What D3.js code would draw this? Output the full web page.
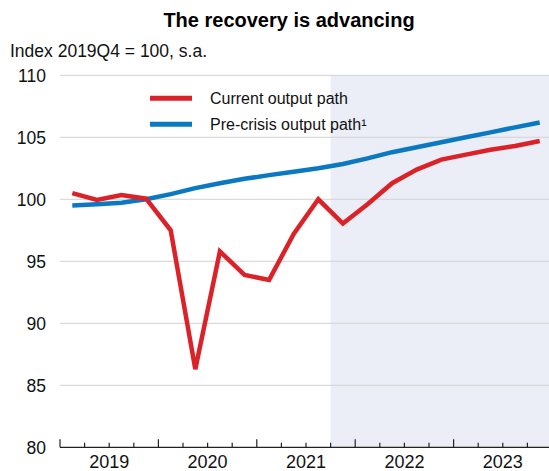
<!DOCTYPE html>
<html>
<head>
<meta charset="utf-8">
<script src="https://cdn.jsdelivr.net/npm/d3@7"></script>
<style>
  html, body { margin: 0; padding: 0; background: #fff; }
  svg { display: block; font-family: "Liberation Sans", Arial, sans-serif; }
</style>
</head>
<body>
<svg id="chart" width="549" height="471"></svg>
<script>
const quarters = ["2019Q1","2019Q2","2019Q3","2019Q4","2020Q1","2020Q2","2020Q3","2020Q4",
  "2021Q1","2021Q2","2021Q3","2021Q4","2022Q1","2022Q2","2022Q3","2022Q4",
  "2023Q1","2023Q2","2023Q3","2023Q4"];
const currentPath = [100.5, 99.95, 100.35, 100.05, 97.5, 86.3, 95.8, 93.9, 93.5, 97.2,
  100.0, 98.05, 99.6, 101.3, 102.4, 103.2, 103.6, 104.0, 104.3, 104.7];
const preCrisisPath = [99.5, 99.6, 99.72, 100.0, 100.42, 100.9, 101.3, 101.65, 101.95, 102.22,
  102.5, 102.85, 103.3, 103.8, 104.2, 104.6, 105.0, 105.4, 105.8, 106.2];
const years = ["2019","2020","2021","2022","2023"];
const yTicks = [80, 85, 90, 95, 100, 105, 110];
const projectionStart = "2021Q4";
const seriesNames = ["Current output path", "Pre-crisis output path\u00b9"];
const seriesColors = ["#dc2229", "#0b78c2"];

const svg = d3.select("#chart");
const W = 549, H = 471;
const m = {left: 60, right: 0, top: 75.3, bottom: 23.7};
const plotW = W - m.left - m.right;
const plotH = H - m.top - m.bottom;

// quarter band scale; 20 quarters over 5 years (~24.6px each)
const qWidth = 98.4 / 4;
const x = d3.scaleBand().domain(quarters).range([m.left, m.left + qWidth * quarters.length]).padding(0);
const y = d3.scaleLinear().domain([80, 110]).range([H - m.bottom, m.top]);
const xc = q => x(q) + x.bandwidth() / 2;

// shading
svg.append("rect")
  .attr("x", x(projectionStart)).attr("y", m.top)
  .attr("width", W - x(projectionStart)).attr("height", plotH)
  .attr("fill", "#ebeef6");

// gridlines
svg.append("g").selectAll("line").data(yTicks.filter(d => d > 80)).join("line")
  .attr("x1", m.left).attr("x2", W)
  .attr("y1", d => y(d)).attr("y2", d => y(d))
  .attr("stroke", "#d3d3d3").attr("stroke-width", 1);

// y labels
svg.append("g").selectAll("text").data(yTicks).join("text")
  .attr("x", 46).attr("y", d => y(d)).attr("dy", "0.36em")
  .attr("text-anchor", "end").attr("font-size", 17.5).attr("fill", "#111")
  .text(d => d);

// x axis
const xAxisY = y(80);
svg.append("line").attr("x1", m.left).attr("x2", W).attr("y1", xAxisY).attr("y2", xAxisY)
  .attr("stroke", "#222").attr("stroke-width", 1.2);
const tickPos = d3.range(quarters.length + 1).map(i => ({pos: m.left + i * qWidth, major: i % 4 === 0}));
svg.append("g").selectAll("line").data(tickPos.filter(t => t.pos <= W)).join("line")
  .attr("x1", d => d.pos).attr("x2", d => d.pos)
  .attr("y1", xAxisY).attr("y2", d => xAxisY - (d.major ? 8 : 4.5))
  .attr("stroke", "#222").attr("stroke-width", 1.2);
svg.append("g").selectAll("text").data(years).join("text")
  .attr("x", (d, i) => m.left + (i + 0.5) * 4 * qWidth)
  .attr("y", 468).attr("text-anchor", "middle").attr("font-size", 18).attr("fill", "#111")
  .text(d => d);

// lines
const line = d3.line().x((d, i) => xc(quarters[i])).y(d => y(d)).curve(d3.curveLinear);
[preCrisisPath, currentPath].forEach((s, idx) => {
  const color = idx === 0 ? seriesColors[1] : seriesColors[0];
  svg.append("path").datum(s).attr("d", line)
    .attr("fill", "none").attr("stroke", color).attr("stroke-width", 4.5)
    .attr("stroke-linejoin", "miter").attr("stroke-miterlimit", 4);
});

// legend
const legY = [98.3, 124.3];
seriesNames.forEach((n, i) => {
  svg.append("line").attr("x1", 150).attr("x2", 192).attr("y1", legY[i]).attr("y2", legY[i])
    .attr("stroke", seriesColors[i]).attr("stroke-width", 5);
  svg.append("text").attr("x", 210).attr("y", legY[i]).attr("dy", "0.36em")
    .attr("font-size", 16).attr("fill", "#111").text(n);
});

// title & subtitle
svg.append("text").attr("x", 289).attr("y", 27).attr("text-anchor", "middle")
  .attr("font-size", 20).attr("font-weight", "bold").attr("fill", "#000")
  .text("The recovery is advancing");
svg.append("text").attr("x", 10).attr("y", 57).attr("font-size", 17.5).attr("fill", "#111")
  .text("Index 2019Q4 = 100, s.a.");
</script>
</body>
</html>
